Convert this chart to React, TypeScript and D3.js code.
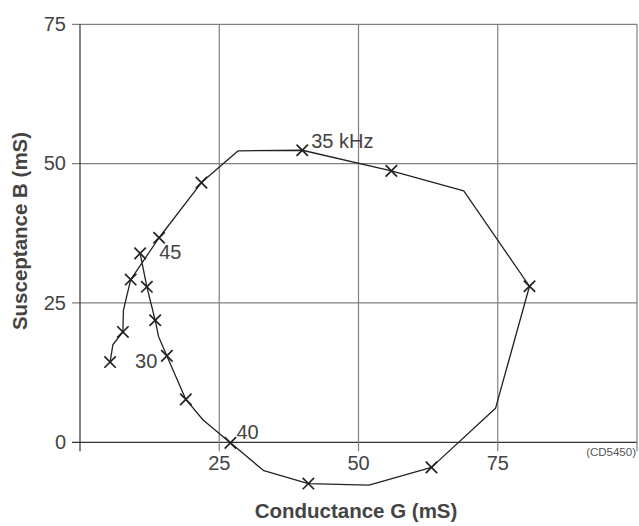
import React from 'react';
import * as d3 from 'd3';

// admittance loop (G and B in mS)
const curveG = [5.4, 5.9, 7.7, 7.8, 9.1, 14.2, 21.8, 28.4, 39.9, 55.9, 68.9, 80.7, 74.6, 63.1, 51.9, 41.0, 33.0, 27.0, 22.1, 19.0, 15.6, 14.1, 13.5, 12.0, 10.8];
const curveB = [14.4, 17.5, 19.8, 23.7, 29.2, 36.7, 46.6, 52.3, 52.4, 48.7, 45.1, 28.0, 6.1, -4.5, -7.7, -7.4, -5.1, -0.1, 4.0, 7.7, 15.5, 19.0, 21.9, 27.9, 33.9];
// which vertices carry an x marker
const markerIdx = [0, 2, 4, 5, 6, 8, 9, 11, 13, 15, 17, 19, 20, 22, 23, 24];
// frequency labels and the vertex they sit next to
const freqLabels = ['35 kHz', '45', '30', '40'];
const freqLabelIdx = [8, 24, 0, 17];

const xTicks = [25, 50, 75];
const yTicks = [0, 25, 50, 75];
const xGrid = [0, 25, 50, 75, 100];

const W = 639;
const H = 526;

const App: React.FC = () => {
  const x = d3.scaleLinear().domain([0, 100]).range([80, 637]);
  const y = d3.scaleLinear().domain([0, 75]).range([442.3, 24.3]);

  const pts: [number, number][] = curveG.map((g, i) => [g, curveB[i]]);
  const line = d3.line<[number, number]>().x(d => x(d[0])).y(d => y(d[1]));

  const labelOffsets: { [k: string]: [number, number] } = {
    '35 kHz': [9, 0],
    '45': [19, 8],
    '30': [25, 8],
    '40': [6, -2],
  };

  const font = "Arial, 'Liberation Sans', Helvetica, sans-serif";
  const textCol = '#444';
  const gridCol = '#808080';
  const axisCol = '#333';
  const ms = 5.7;

  return (
    <svg width={W} height={H} style={{ position: 'absolute', left: 0, top: 0, background: '#fff' }} fontFamily={font}>
      {/* horizontal grid + y ticks */}
      {yTicks.map(t => (
        <line key={'h' + t} x1={72} x2={x(100)} y1={y(t)} y2={y(t)}
          stroke={t === 0 ? axisCol : gridCol} strokeWidth={1.2} />
      ))}
      {/* vertical grid + x ticks */}
      {xGrid.map(t => (
        <line key={'v' + t} x1={x(t)} x2={x(t)} y1={y(75)} y2={y(0) + 9}
          stroke={t === 0 ? axisCol : gridCol} strokeWidth={1.2} />
      ))}

      {yTicks.map(t => (
        <text key={'yl' + t} x={66} y={y(t)} dy="0.33em" textAnchor="end"
          fontSize={20} fill={textCol}>{t}</text>
      ))}
      {xTicks.map(t => (
        <text key={'xl' + t} x={x(t)} y={470} textAnchor="middle"
          fontSize={20} fill={textCol}>{t}</text>
      ))}

      <text x={356} y={518} textAnchor="middle" fontSize={20.5} fontWeight="bold" fill={textCol}>
        Conductance G (mS)
      </text>
      <text transform="translate(27,231) rotate(-90)" textAnchor="middle" fontSize={20.5}
        fontWeight="bold" fill={textCol}>
        Susceptance B (mS)
      </text>
      <text x={636} y={456} textAnchor="end" fontSize={11.5} fill="#555">(CD5450)</text>

      <path d={line(pts) || ''} fill="none" stroke="#222" strokeWidth={1.3} strokeLinejoin="round" />

      {markerIdx.map(i => {
        const cx = x(curveG[i]);
        const cy = y(curveB[i]);
        return (
          <g key={'m' + i} stroke="#222" strokeWidth={1.7}>
            <line x1={cx - ms} y1={cy - ms} x2={cx + ms} y2={cy + ms} />
            <line x1={cx - ms} y1={cy + ms} x2={cx + ms} y2={cy - ms} />
          </g>
        );
      })}

      {freqLabels.map((lab, k) => {
        const i = freqLabelIdx[k];
        const [dx, dy] = labelOffsets[lab];
        return (
          <text key={'f' + k} x={x(curveG[i]) + dx} y={y(curveB[i]) + dy} dy="-0.1em"
            fontSize={20} fill={textCol}>{lab}</text>
        );
      })}
    </svg>
  );
};

export default App;
